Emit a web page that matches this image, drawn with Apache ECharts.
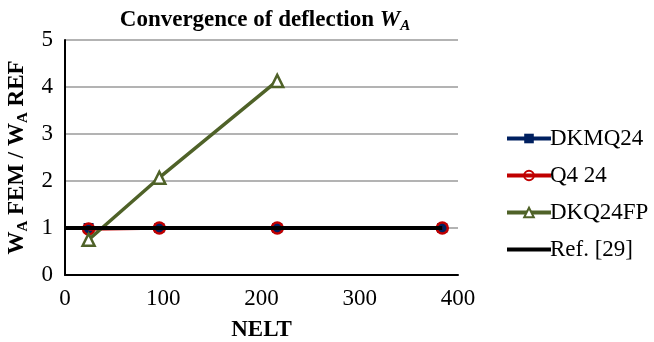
<!DOCTYPE html>
<html>
<head>
<meta charset="utf-8">
<script src="https://cdn.jsdelivr.net/npm/echarts@6/dist/echarts.min.js"></script>
<style>
  html, body { margin: 0; padding: 0; background: #fff; }
  #chart { width: 654px; height: 342px; }
</style>
</head>
<body>
<div id="chart"></div>
<script>
// Number of elements used in each mesh
const nelt = [24, 96, 216, 384];

// Normalised deflection W_A(FEM) / W_A(REF)
const dkmq24 = [1.0, 1.0, 1.0, 1.0];
const q4_24 = [0.98, 1.0, 1.0, 1.0];
const dkq24fp = [0.75, 2.07, 4.13];

// Reference solution (constant ratio of 1)
const refX = [0, 384];
const refY = [1, 1];

const xTicks = { min: 0, max: 400, interval: 100 };
const yTicks = { min: 0, max: 5, interval: 1 };

const serif = '"Liberation Serif", "Times New Roman", serif';

function pairs(xs, ys) {
  return ys.map((y, i) => [xs[i], y]);
}

// Plain thick bar used as the legend key of the reference line
const refLegendIcon = 'path://M0,0L0,0M0,4L44,4L44,8L0,8ZM44,12L44,12';

const chart = echarts.init(document.getElementById('chart'));

chart.setOption({
  animation: false,
  backgroundColor: '#ffffff',
  textStyle: { fontFamily: serif },
  title: {
    text: '{t|Convergence of deflection }{w|W}{s|A}',
    left: 260,
    top: 1,
    textAlign: 'center',
    textStyle: {
      rich: {
        t: { fontFamily: serif, fontWeight: 'bold', fontSize: 23, color: '#000', lineHeight: 28 },
        w: { fontFamily: serif, fontWeight: 'bold', fontStyle: 'italic', fontSize: 23, color: '#000', lineHeight: 28 },
        s: { fontFamily: serif, fontWeight: 'bold', fontStyle: 'italic', fontSize: 15, color: '#000', lineHeight: 28, padding: [12, 0, 0, 0] }
      }
    }
  },
  grid: { left: 65, right: 196, top: 40, bottom: 67, containLabel: false, outerBoundsMode: 'none' },
  legend: {
    orient: 'vertical',
    left: 500,
    top: 122,
    itemWidth: 44,
    itemHeight: 12,
    itemGap: 14,
    lineStyle: { width: 4 },
    textStyle: { fontFamily: serif, fontSize: 23, color: '#000', padding: [0, 0, 0, -6] },
    data: [
      { name: 'DKMQ24' },
      { name: 'Q4 24' },
      { name: 'DKQ24FP' },
      { name: 'Ref. [29]', icon: refLegendIcon, itemStyle: { color: '#000' } }
    ]
  },
  xAxis: {
    type: 'value',
    min: xTicks.min,
    max: xTicks.max,
    interval: xTicks.interval,
    name: 'NELT',
    nameLocation: 'middle',
    nameGap: 44,
    nameTextStyle: { fontFamily: serif, fontWeight: 'bold', fontSize: 23, color: '#000' },
    axisLine: { show: true, onZero: false, lineStyle: { color: '#000', width: 2 } },
    axisTick: { show: false },
    axisLabel: { fontFamily: serif, fontSize: 23, color: '#000', margin: 12 },
    splitLine: { show: false }
  },
  yAxis: {
    type: 'value',
    min: yTicks.min,
    max: yTicks.max,
    interval: yTicks.interval,
    name: '{b|W}{s|A}{b| FEM / W}{s|A}{b| REF}',
    nameLocation: 'middle',
    nameRotate: 90,
    nameGap: 31,
    nameTextStyle: {
      rich: {
        b: { fontFamily: serif, fontWeight: 'bold', fontSize: 23, color: '#000', lineHeight: 28 },
        s: { fontFamily: serif, fontWeight: 'bold', fontSize: 15, color: '#000', lineHeight: 28, padding: [12, 0, 0, 0] }
      }
    },
    axisLine: { show: true, lineStyle: { color: '#000', width: 2 } },
    axisTick: { show: false },
    axisLabel: { fontFamily: serif, fontSize: 23, color: '#000', margin: 12 },
    splitLine: { show: true, lineStyle: { color: '#9a9a9a', width: 1.5 } }
  },
  series: [
    {
      name: 'DKMQ24',
      type: 'line',
      data: pairs(nelt, dkmq24),
      symbol: 'rect',
      symbolSize: 10,
      color: '#002060',
      lineStyle: { color: '#002060', width: 3.5 },
      itemStyle: { color: '#002060' },
      z: 2
    },
    {
      name: 'Q4 24',
      type: 'line',
      data: pairs(nelt, q4_24),
      symbol: 'circle',
      symbolSize: 11,
      color: '#C00000',
      lineStyle: { color: '#C00000', width: 3.5 },
      itemStyle: { color: 'rgba(0,0,0,0)', borderColor: '#C00000', borderWidth: 2.5 },
      z: 3
    },
    {
      name: 'DKQ24FP',
      type: 'line',
      data: pairs(nelt, dkq24fp),
      symbol: 'triangle',
      symbolSize: 12,
      color: '#4F6228',
      lineStyle: { color: '#4F6228', width: 3.5 },
      itemStyle: { color: '#ffffff', borderColor: '#4F6228', borderWidth: 2.5 },
      z: 4
    },
    {
      name: 'Ref. [29]',
      type: 'line',
      data: pairs(refX, refY),
      symbol: 'none',
      color: '#000000',
      lineStyle: { color: '#000000', width: 4 },
      z: 5
    }
  ]
});
</script>
</body>
</html>
